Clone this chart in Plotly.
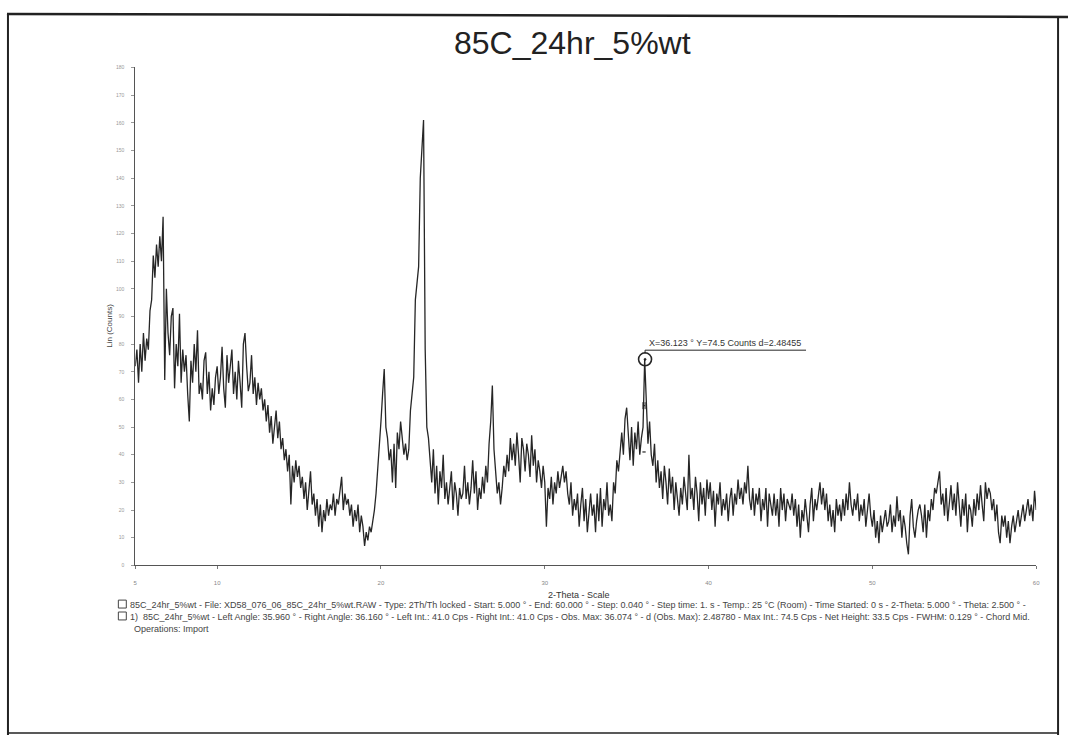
import numpy as np
import plotly.graph_objects as go

# Scan settings
two_theta_start = 5.0
two_theta_step = 0.1

# Intensity (counts), one row per degree of 2-theta, 5.0 .. 60.0
counts = [
    72, 78, 66, 80, 70, 84, 74, 82, 78, 92,      # 5
    96, 112, 104, 116, 108, 119, 110, 126, 67, 100,  # 6
    84, 76, 90, 93, 64, 80, 72, 91, 66, 78,      # 7
    70, 76, 62, 52, 74, 66, 80, 70, 85, 62,      # 8
    66, 60, 74, 77, 62, 70, 56, 64, 58, 68,      # 9
    72, 62, 68, 79, 64, 57, 76, 66, 72, 78,      # 10
    62, 70, 60, 74, 66, 57, 80, 84, 72, 63,      # 11
    66, 76, 62, 68, 58, 66, 60, 64, 56, 60,      # 12
    52, 58, 48, 54, 44, 50, 56, 46, 52, 42,      # 13
    46, 38, 42, 34, 40, 22, 36, 30, 38, 32,      # 14
    36, 28, 32, 24, 30, 20, 28, 34, 22, 26,      # 15
    18, 24, 14, 22, 12, 20, 16, 24, 18, 22,      # 16
    20, 26, 18, 24, 22, 28, 32, 20, 26, 22,      # 17
    24, 18, 22, 14, 20, 16, 22, 12, 18, 14,      # 18
    7, 12, 9, 14, 12, 16, 20, 26, 34, 44,        # 19
    52, 62, 71, 50, 46, 38, 42, 30, 44, 28,      # 20
    48, 42, 52, 46, 40, 44, 38, 42, 56, 62,      # 21
    68, 96, 102, 108, 140, 152, 161, 78, 50, 46,  # 22
    38, 30, 42, 26, 36, 22, 34, 28, 40, 24,      # 23
    30, 22, 28, 34, 20, 30, 26, 18, 28, 24,      # 24
    26, 36, 24, 30, 22, 28, 38, 26, 34, 20,      # 25
    28, 24, 32, 26, 36, 30, 44, 52, 65, 42,      # 26
    34, 26, 30, 22, 28, 36, 32, 40, 34, 46,      # 27
    38, 44, 36, 48, 40, 30, 46, 42, 34, 44,      # 28
    40, 32, 47, 36, 42, 30, 38, 34, 28, 36,      # 29
    30, 14, 28, 24, 32, 22, 30, 26, 34, 28,      # 30
    32, 36, 30, 34, 26, 22, 30, 18, 24, 20,      # 31
    26, 14, 22, 28, 16, 24, 12, 20, 26, 18,      # 32
    22, 12, 26, 16, 28, 14, 24, 20, 30, 18,      # 33
    22, 16, 30, 26, 38, 34, 42, 48, 40, 53,      # 34
    57, 46, 38, 50, 36, 48, 42, 52, 40, 46,      # 35
    50, 74.5, 60, 44, 52, 40, 36, 44, 30, 38,    # 36
    28, 34, 24, 36, 30, 22, 35, 26, 32, 20,      # 37
    30, 24, 18, 28, 22, 32, 26, 20, 40, 24,      # 38
    28, 20, 32, 26, 16, 30, 22, 28, 18, 31,      # 39
    24, 30, 20, 27, 14, 26, 22, 30, 18, 24,      # 40
    20, 26, 16, 24, 28, 18, 26, 22, 31, 24,      # 41
    28, 22, 30, 26, 36, 24, 20, 28, 18, 26,      # 42
    22, 28, 16, 24, 20, 28, 14, 26, 22, 18,      # 43
    26, 18, 24, 14, 28, 20, 26, 16, 24, 22,      # 44
    20, 26, 18, 24, 14, 22, 10, 20, 16, 24,      # 45
    18, 12, 22, 28, 16, 24, 20, 26, 30, 22,      # 46
    28, 20, 26, 16, 22, 14, 20, 12, 24, 18,      # 47
    22, 16, 24, 18, 26, 20, 30, 22, 18, 24,      # 48
    20, 26, 16, 22, 18, 24, 14, 20, 26, 18,      # 49
    14, 20, 10, 16, 8, 18, 12, 16, 20, 14,       # 50
    16, 22, 12, 18, 14, 25, 16, 20, 10, 18,      # 51
    14, 8, 4, 18, 24, 14, 10, 16, 20, 22,        # 52
    18, 12, 22, 10, 20, 16, 24, 20, 28, 26,      # 53
    30, 34, 22, 26, 18, 28, 16, 24, 29, 20,      # 54
    26, 18, 30, 22, 14, 24, 18, 26, 12, 22,      # 55
    20, 14, 24, 18, 26, 20, 29, 22, 16, 30,      # 56
    24, 28, 26, 20, 24, 16, 22, 12, 8, 18,       # 57
    14, 18, 10, 16, 8, 14, 18, 12, 16, 20,       # 58
    14, 18, 22, 16, 20, 24, 18, 22, 16, 27,      # 59
    20,                                          # 60
]
two_theta = two_theta_start + two_theta_step * np.arange(len(counts))

# Cursor read-out and peak evaluation values
cursor_x = 36.123
cursor_y = 74.5
cursor_d = 2.48455
left_angle = 35.960
right_angle = 36.160
left_int = 41.0
net_height = 33.5
fwhm = 0.129

x_ticks = [5, 10, 20, 30, 40, 50, 60]
y_ticks = list(range(0, 181, 10))

title_text = "85C_24hr_5%wt"
x_label = "2-Theta - Scale"
y_label = "Lin (Counts)"
footer_lines = [
    "85C_24hr_5%wt - File: XD58_076_06_85C_24hr_5%wt.RAW - Type: 2Th/Th locked - Start: 5.000 ° - End: 60.000 ° - Step: 0.040 ° - Step time: 1. s - Temp.: 25 °C (Room) - Time Started: 0 s - 2-Theta: 5.000 ° - Theta: 2.500 ° -",
    "1)  85C_24hr_5%wt - Left Angle: 35.960 ° - Right Angle: 36.160 ° - Left Int.: 41.0 Cps - Right Int.: 41.0 Cps - Obs. Max: 36.074 ° - d (Obs. Max): 2.48780 - Max Int.: 74.5 Cps - Net Height: 33.5 Cps - FWHM: 0.129 ° - Chord Mid.",
    "Operations: Import",
]

W, H = 1072, 738
FONT = "Liberation Sans, Arial, sans-serif"


def px(x):
    return x / W


def py(y):
    return 1 - y / H


ink = "#262626"

fig = go.Figure()
fig.add_trace(go.Scatter(
    x=two_theta, y=counts, mode="lines",
    line=dict(color=ink, width=1.3), showlegend=False, hoverinfo="x+y",
))

# peak chord at background level and at half height
half_y = left_int + net_height / 2
mid_x = (left_angle + right_angle) / 2
fig.add_trace(go.Scatter(
    x=[left_angle, right_angle], y=[left_int, left_int], mode="lines",
    line=dict(color=ink, width=1.2), showlegend=False,
))
fig.add_trace(go.Scatter(
    x=[mid_x - fwhm / 2, mid_x + fwhm / 2], y=[half_y, half_y], mode="lines+markers",
    marker=dict(symbol="line-ns-open", size=5, color=ink, line=dict(width=1, color=ink)),
    line=dict(color=ink, width=1), showlegend=False,
))

# cursor marker
fig.add_trace(go.Scatter(
    x=[cursor_x], y=[cursor_y], mode="markers",
    marker=dict(symbol="circle-open-dot", size=13, color=ink, line=dict(width=1.6, color=ink)),
    showlegend=False,
))

shapes = []
# cursor leader line
lead_y = cursor_y + 3.3
shapes.append(dict(type="line", xref="x", yref="y", x0=cursor_x, x1=cursor_x,
                   y0=cursor_y + 2, y1=lead_y, line=dict(color=ink, width=1)))
shapes.append(dict(type="line", xref="x", yref="y", x0=cursor_x, x1=45.95,
                   y0=lead_y, y1=lead_y, line=dict(color=ink, width=1)))

# page frame
frame = "#222"
shapes.append(dict(type="line", xref="paper", yref="paper", x0=px(5), x1=px(1072),
                   y0=py(11), y1=py(14), line=dict(color=frame, width=2.5)))
shapes.append(dict(type="line", xref="paper", yref="paper", x0=px(6), x1=px(6),
                   y0=py(11), y1=py(738), line=dict(color=frame, width=2)))
shapes.append(dict(type="line", xref="paper", yref="paper", x0=px(1062), x1=px(1062),
                   y0=py(14), y1=py(738), line=dict(color=frame, width=2)))
shapes.append(dict(type="line", xref="paper", yref="paper", x0=px(6), x1=px(1062),
                   y0=py(736), y1=py(736), line=dict(color=frame, width=1.5)))

# footer icons
for top in (602, 614):
    shapes.append(dict(type="rect", xref="paper", yref="paper", x0=px(117), x1=px(125),
                       y0=py(top + 8), y1=py(top), line=dict(color="#444", width=1)))

annotations = [
    dict(text=title_text, x=px(574), y=py(40), xref="paper", yref="paper",
         xanchor="center", yanchor="middle",
         showarrow=False, font=dict(family=FONT, size=32, color="#222")),
    dict(text=x_label, x=px(580), y=py(597), xref="paper", yref="paper",
         xanchor="center", yanchor="middle",
         showarrow=False, font=dict(family=FONT, size=9, color="#333")),
    dict(text=y_label, x=px(108), y=py(325), xref="paper", yref="paper", textangle=-90,
         xanchor="center", yanchor="middle",
         showarrow=False, font=dict(family=FONT, size=8, color="#444")),
    dict(text=f"X={cursor_x:.3f} ° Y={cursor_y} Counts d={cursor_d:.5f}",
         x=cursor_x + 0.1, y=lead_y, xref="x", yref="y", xanchor="left", yanchor="bottom",
         showarrow=False, font=dict(family=FONT, size=9, color="#333")),
]
for i, (line, left) in enumerate(zip(footer_lines, (127, 127, 131))):
    annotations.append(dict(text=line, x=px(left), y=py(607 + 12 * i), xref="paper", yref="paper",
                            xanchor="left", yanchor="middle", showarrow=False,
                            font=dict(family=FONT, size=9, color="#444")))

fig.update_layout(
    width=W, height=H,
    margin=dict(l=0, r=0, t=0, b=0),
    paper_bgcolor="white", plot_bgcolor="white",
    shapes=shapes, annotations=annotations,
    xaxis=dict(domain=[px(134), px(1040)], range=[5, 60], tickvals=x_ticks,
               showgrid=False, zeroline=False, showline=True, linecolor="#555", linewidth=1,
               ticks="outside", ticklen=3, tickcolor="#777", ticklabelstandoff=8,
               tickfont=dict(family=FONT, size=6, color="#888")),
    yaxis=dict(domain=[py(567), py(65)], range=[0, 180], tickvals=y_ticks,
               showgrid=False, zeroline=False, showline=True, linecolor="#555", linewidth=1,
               ticks="outside", ticklen=3, tickcolor="#999", ticklabelstandoff=6,
               tickfont=dict(family=FONT, size=5, color="#999")),
    font=dict(family=FONT),
)

fig.write_html("out.html")
